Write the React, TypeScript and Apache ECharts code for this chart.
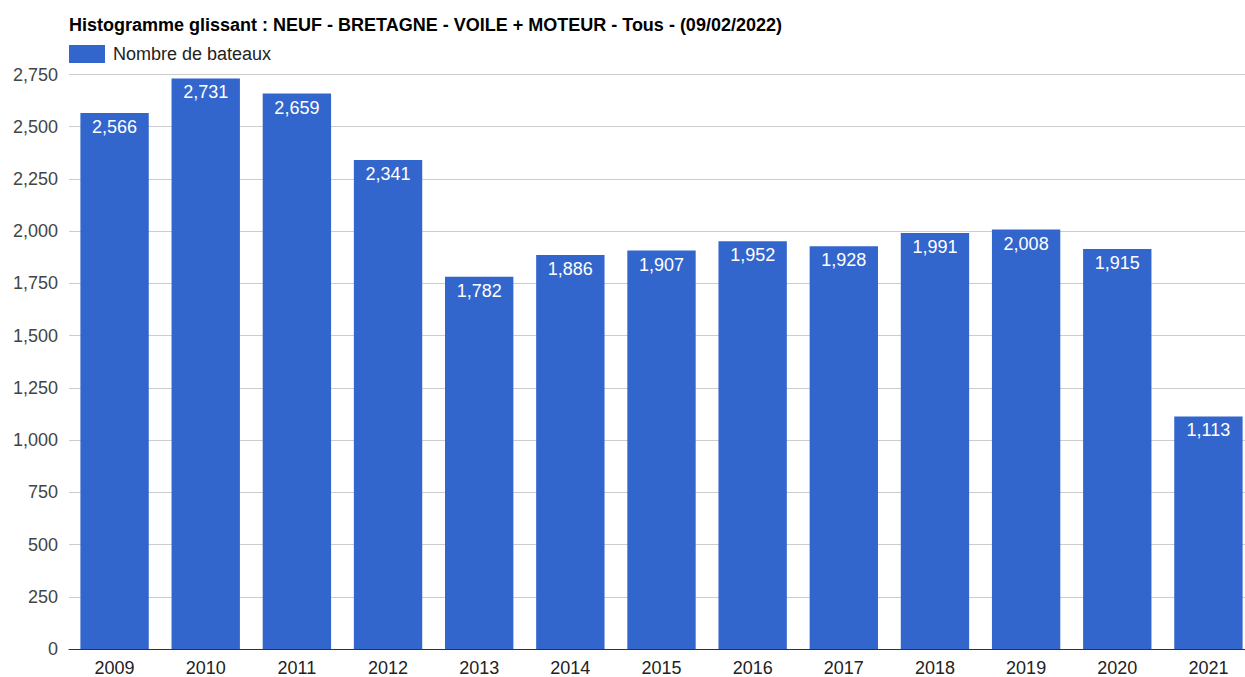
import React, { useEffect, useRef } from "react";
import * as echarts from "echarts";

const years = ["2009", "2010", "2011", "2012", "2013", "2014", "2015", "2016", "2017", "2018", "2019", "2020", "2021"];
const boats = [2566, 2731, 2659, 2341, 1782, 1886, 1907, 1952, 1928, 1991, 2008, 1915, 1113];
const titleText = "Histogramme glissant : NEUF - BRETAGNE - VOILE + MOTEUR - Tous - (09/02/2022)";
const seriesName = "Nombre de bateaux";

const fmt = (v: number) => v.toLocaleString("en-US");

export default function App() {
  const ref = useRef<HTMLDivElement>(null);
  useEffect(() => {
    if (!ref.current) return;
    const chart = echarts.init(ref.current, undefined, { renderer: "svg" });
    const font = "Arial, 'Liberation Sans', sans-serif";
    chart.setOption({
      animation: false,
      textStyle: { fontFamily: font },
      title: {
        text: titleText,
        left: 64,
        top: 11,
        textStyle: { fontSize: 18, fontWeight: "bold", color: "#000", fontFamily: font },
      },
      legend: {
        left: 64,
        top: 40,
        icon: "rect",
        itemWidth: 36,
        itemHeight: 18,
        textStyle: { fontSize: 18, color: "#222", fontFamily: font, padding: [0, 0, 0, 3] },
        data: [seriesName],
      },
      grid: { left: 69, right: 8, top: 74.5, bottom: 27, containLabel: false },
      xAxis: {
        type: "category",
        data: years,
        axisTick: { show: false },
        axisLine: { lineStyle: { color: "#333", width: 1 } },
        axisLabel: { fontSize: 18, color: "#222", margin: 10, fontFamily: font },
      },
      yAxis: {
        type: "value",
        min: 0,
        max: 2750,
        interval: 250,
        axisLabel: { fontSize: 18, color: "#444", margin: 11, fontFamily: font, formatter: (v: number) => fmt(v) },
        splitLine: { lineStyle: { color: "#ccc" } },
        axisLine: { show: false },
        axisTick: { show: false },
      },
      series: [
        {
          name: seriesName,
          type: "bar",
          data: boats,
          barCategoryGap: "25%",
          itemStyle: { color: "#3366cc" },
          label: {
            show: true,
            position: "insideTop",
            distance: 5,
            color: "#fff",
            fontSize: 18,
            fontFamily: font,
            formatter: (p: any) => fmt(p.value),
          },
        },
      ],
    });
    return () => chart.dispose();
  }, []);
  return (
    <div style={{ position: "fixed", left: 0, top: 0, width: 1245, height: 677, overflow: "hidden", background: "#fff" }}>
      <div ref={ref} style={{ width: 1262, height: 677 }} />
    </div>
  );
}
